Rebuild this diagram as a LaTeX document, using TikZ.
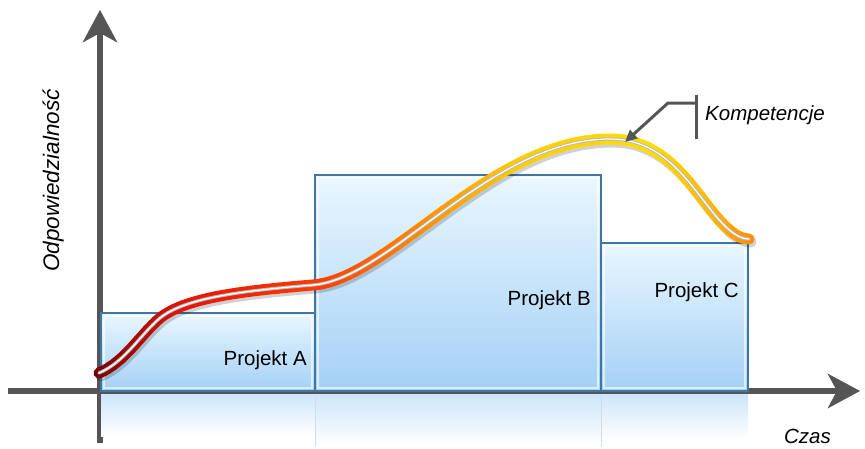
\documentclass[tikz,border=0pt]{standalone}
\usepackage{fontspec}
\setmainfont{Liberation Sans}
\usepackage{xcolor}
\usetikzlibrary{arrows.meta}

\definecolor{axisgray}{RGB}{85,85,85}
\definecolor{boxtop}{RGB}{234,247,255}
\definecolor{boxbottom}{RGB}{164,208,245}
\definecolor{boxedge}{RGB}{62,118,165}
\definecolor{kA}{RGB}{110,0,0}
\definecolor{kB}{RGB}{225,20,10}
\definecolor{kC}{RGB}{255,60,0}
\definecolor{kD}{RGB}{255,140,0}
\definecolor{kE}{RGB}{255,205,0}
\definecolor{kF}{RGB}{255,222,0}
\definecolor{kG}{RGB}{255,185,0}
\definecolor{kH}{RGB}{255,130,0}

\newcommand{\chartfont}{\fontsize{20.5}{24}\selectfont}
\newcommand{\kpath}{(99,373) .. controls (125,362) and (140,335) .. (160,318) .. controls (185,298) and (240,291) .. (313,285) .. controls (390,279) and (490,139) .. (610,139) .. controls (665,139) and (690,185) .. (715,215) .. controls (730,233) and (740,239) .. (749,239)}

\begin{document}
\begin{tikzpicture}[x=1pt, y=-1pt,
  axisline/.style={axisgray, line width=6pt, -{Stealth[length=32pt, width=34pt, inset=9pt]}},
  axisshadow/.style={axisline, black, opacity=0.15, shift={(2,3)}},
  projbox/.style={top color=boxtop, bottom color=boxbottom, draw=boxedge, line width=1.2pt},
  projshine/.style={draw=white, opacity=0.6, line width=1.2pt},
  projmirror/.style={top color=boxbottom!55!white, bottom color=white},
  projlabel/.style={font=\chartfont, anchor=base east, inner sep=0pt},
  kcurve/.style={line width=11pt, line cap=round, line join=round},
  callout/.style={axisgray, line width=3pt}]
  \useasboundingbox (0,0) rectangle (865,448);

  % axes
  \coordinate (xstart) at (8,391);
  \coordinate (xend) at (860,391);
  \coordinate (ystart) at (100,443);
  \coordinate (yend) at (100,10);
  \draw[axisshadow] (xstart) -- (xend);
  \draw[axisshadow] (ystart) -- (yend);
  \draw[axisline] (xstart) -- (xend);
  \draw[axisline] (ystart) -- (yend);

  % reflections below the axis
  \shade[projmirror] (101,394) rectangle (315,436);
  \shade[projmirror] (315,394) rectangle (601,446);
  \shade[projmirror] (601,394) rectangle (748,440);
  \draw[boxedge!25] (315,394) -- (315,446);
  \draw[boxedge!25] (601,394) -- (601,446);

  % projects
  \shade[projbox] (101,313) rectangle (315,391);
  \shade[projbox] (315,175) rectangle (601,391);
  \shade[projbox] (601,243) rectangle (748,391);
  \draw[projshine] (104,316) rectangle (312,388);
  \draw[projshine] (318,178) rectangle (598,388);
  \draw[projshine] (604,246) rectangle (745,388);

  \node[projlabel] (labA) at (307,365) {Projekt A};
  \node[projlabel] (labB) at (591,305) {Projekt B};
  \node[projlabel] (labC) at (739,297) {Projekt C};

  % competence curve
  \draw[kcurve, black, opacity=0.18, shift={(2,3)}] \kpath;
  \foreach \xa/\xb/\ca/\cb in {88/180/kA/kB, 180/320/kB/kC, 320/420/kC/kD, 420/520/kD/kE, 520/650/kE/kF, 650/710/kF/kG, 710/762/kG/kH}{
    \foreach \i in {0,...,9}{
      \pgfmathsetmacro\xl{\xa+(\xb-\xa)*\i/10}
      \pgfmathsetmacro\xr{\xl+(\xb-\xa)/10+0.8}
      \pgfmathtruncatemacro\pc{95-10*\i}
      \colorlet{stripcol}{\ca!\pc!\cb}
      \begin{scope}
        \clip (\xl,0) rectangle (\xr,448);
        \draw[kcurve, stripcol] \kpath;
      \end{scope}
    }
  }
  \draw[kcurve, line width=3.2pt, gray!55] \kpath;
  \draw[kcurve, line width=1.2pt, white] \kpath;

  % callout
  \node[font=\chartfont\itshape, anchor=base west, inner sep=0pt] (labKomp) at (705,120) {Kompetencje};
  \coordinate (kbartop) at (696,95);
  \coordinate (kbarbot) at (696,139);
  \coordinate (kbarmid) at (696,103);
  \coordinate (kbend) at (668,103);
  \coordinate (ktip) at (625,142);
  \draw[callout] (kbartop) -- (kbarbot);
  \draw[callout, -{Triangle[length=12pt, width=11pt]}] (kbarmid) -- (kbend) -- (ktip);

  % axis labels
  \node[font=\chartfont\itshape, anchor=base east, inner sep=0pt] (labCzas) at (831,443) {Czas};
  \node[font=\fontsize{22.5}{26}\selectfont\itshape, anchor=base west, inner sep=0pt, rotate=90] (labOdp) at (59,272) {Odpowiedzialność};
\end{tikzpicture}
\end{document}
